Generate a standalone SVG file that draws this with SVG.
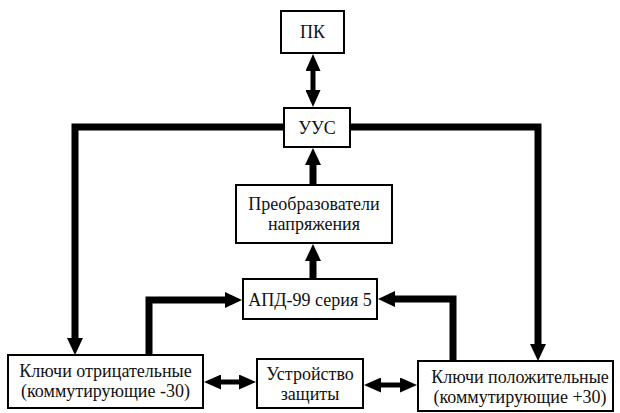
<svg xmlns="http://www.w3.org/2000/svg" width="620" height="413" viewBox="0 0 620 413">
  <style>
    .box { fill: #ffffff; stroke: #000000; stroke-width: 2; }
    .lbl { font-family: "Liberation Serif", "Times New Roman", serif; font-size: 18px; fill: #111111; text-anchor: middle; dominant-baseline: central; }
    .bus { fill: none; stroke: #000000; stroke-width: 7; stroke-linejoin: miter; stroke-linecap: butt; }
    .link { fill: none; stroke: #000000; stroke-width: 5; stroke-linecap: butt; }
  </style>
  <defs>
    <marker id="head" viewBox="0 -8 17 16" refX="1" refY="0" markerWidth="17" markerHeight="16" markerUnits="userSpaceOnUse" orient="auto-start-reverse">
      <path d="M0,-8 L17,0 L0,8 Z" fill="#000000"/>
    </marker>
    <marker id="dhead" viewBox="0 -7.5 17 15" refX="1" refY="0" markerWidth="17" markerHeight="15" markerUnits="userSpaceOnUse" orient="auto-start-reverse">
      <path d="M0,-7.5 L17,0 L0,7.5 Z" fill="#000000"/>
    </marker>
  </defs>

  <g id="connectors">
    <!-- ПК <-> УУС -->
    <path class="link" d="M313,70 V91" marker-start="url(#dhead)" marker-end="url(#dhead)"/>
    <!-- УУС -> ключи отрицательные -->
    <path class="bus" d="M284,127 H75 V339" marker-end="url(#head)"/>
    <!-- УУС -> ключи положительные -->
    <path class="bus" d="M350,127 H538 V345" marker-end="url(#head)"/>
    <!-- преобразователи -> УУС -->
    <path class="bus" d="M313,185 V164" marker-end="url(#head)"/>
    <!-- АПД -> преобразователи -->
    <path class="bus" d="M313,279 V260" marker-end="url(#head)"/>
    <!-- ключи отрицательные -> АПД -->
    <path class="bus" d="M149,355 V300 H226" marker-end="url(#head)"/>
    <!-- ключи положительные -> АПД -->
    <path class="bus" d="M453,361 V299 H394" marker-end="url(#head)"/>
    <!-- ключи отрицательные <-> устройство защиты -->
    <path class="link" d="M220,382 H240" marker-start="url(#dhead)" marker-end="url(#dhead)"/>
    <!-- устройство защиты <-> ключи положительные -->
    <path class="link" d="M380,385 H401" marker-start="url(#dhead)" marker-end="url(#dhead)"/>
  </g>

  <g id="pk">
    <rect class="box" x="281" y="11" width="63" height="42"/>
    <text class="lbl" x="312.5" y="32">ПК</text>
  </g>

  <g id="uus">
    <rect class="box" x="284" y="108" width="66" height="39"/>
    <text class="lbl" x="317" y="127.5">УУС</text>
  </g>

  <g id="converters">
    <rect class="box" x="236" y="185" width="156" height="58"/>
    <text class="lbl" x="314" y="204">Преобразователи</text>
    <text class="lbl" x="314" y="224">напряжения</text>
  </g>

  <g id="apd">
    <rect class="box" x="243" y="279" width="134" height="40"/>
    <text class="lbl" x="310" y="299.5">АПД-99 серия 5</text>
  </g>

  <g id="keys-negative">
    <rect class="box" x="8" y="355" width="195" height="53"/>
    <text class="lbl" x="105.5" y="371">Ключи отрицательные</text>
    <text class="lbl" x="105.5" y="391">(коммутирующие -30)</text>
  </g>

  <g id="protection">
    <rect class="box" x="257" y="359" width="106" height="49"/>
    <text class="lbl" x="310" y="373.5">Устройство</text>
    <text class="lbl" x="310" y="393.5">защиты</text>
  </g>

  <g id="keys-positive">
    <rect class="box" x="418" y="361" width="195" height="50"/>
    <text class="lbl" x="520" y="376.5">Ключи положительные</text>
    <text class="lbl" x="520" y="396.5">(коммутирующие +30)</text>
  </g>
</svg>
